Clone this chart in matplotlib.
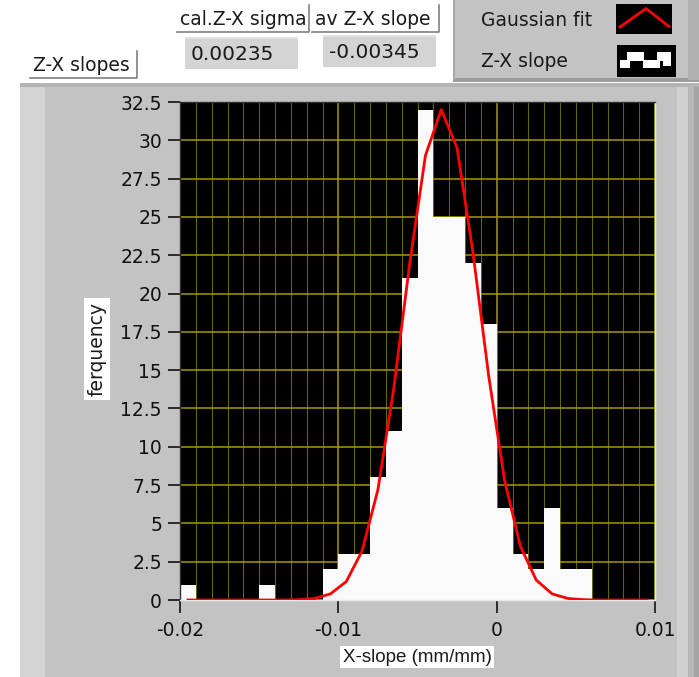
import matplotlib
matplotlib.use("Agg")
import matplotlib.pyplot as plt
from matplotlib.patches import Rectangle
from matplotlib.ticker import MultipleLocator
import numpy as np

plt.rcParams['font.family'] = ['DejaVu Sans']
plt.rcParams['axes.unicode_minus'] = False

# histogram bins (left edges, width 0.001) and counts
bin_left = [-0.020, -0.019, -0.018, -0.017, -0.016, -0.015, -0.014, -0.013, -0.012, -0.011,
            -0.010, -0.009, -0.008, -0.007, -0.006, -0.005, -0.004, -0.003, -0.002, -0.001,
            0.000, 0.001, 0.002, 0.003, 0.004, 0.005, 0.006, 0.007, 0.008, 0.009]
counts = [1, 0, 0, 0, 0, 1, 0, 0, 0, 2,
          3, 3, 8, 11, 21, 32, 25, 25, 22, 18,
          6, 3, 2, 6, 2, 2, 0, 0, 0, 0]
bin_w = 0.001

# gaussian fit drawn at the bin centres
fit_y = [0, 0, 0, 0, 0, 0, 0, 0.02, 0.1, 0.4,
         1.2, 3.2, 7.2, 13.8, 21.9, 29.0, 32.0, 29.5, 22.7, 14.6,
         7.8, 3.5, 1.3, 0.4, 0.1, 0.02, 0, 0, 0, 0]

sigma_txt = "0.00235"
avg_txt = "-0.00345"
x_ticks = [-0.02, -0.01, 0, 0.01]
x_tick_labels = ["-0.02", "-0.01", "0", "0.01"]
y_ticks = [0, 2.5, 5, 7.5, 10, 12.5, 15, 17.5, 20, 22.5, 25, 27.5, 30, 32.5]

W, H = 699, 677
fig = plt.figure(figsize=(W / 100, H / 100), dpi=100)
fig.patch.set_facecolor('white')

# background in pixel coordinates
bg = fig.add_axes([0, 0, 1, 1])
bg.set_xlim(0, W)
bg.set_ylim(H, 0)
bg.axis('off')

def rect(x0, y0, x1, y1, color, z=0):
    bg.add_patch(Rectangle((x0, y0), x1 - x0, y1 - y0, facecolor=color, edgecolor='none', zorder=z))

# graph panel
rect(20, 83, W, H, '#c3c3c3')
rect(20, 83, 45, H, '#d4d4d4')
rect(20, 83, W, 87, '#b4b4b4')
rect(677, 87, 688, H, '#d0d0d0')
rect(688, 87, 694, H, '#b8b8b8')
rect(694, 87, W, H, '#a4a4a4')

# legend panel
rect(453, 0, W, 80, '#c3c3c3')
rect(453, 78, W, 82, '#9c9c9c')
rect(453, 0, 455, 80, '#a8a8a8')
rect(688, 0, W, 80, '#b0b0b0')

# legend icons
rect(616, 4, 672, 34, 'black', 1)
bg.plot([620, 646, 669], [27, 8.5, 26.5], color='#ff0000', lw=2, zorder=2)
rect(617, 45, 676, 77, 'black', 1)
for x0, y0, x1, y1 in [(620, 60, 630, 68), (627, 52, 644, 61), (643, 60, 660, 68),
                       (657, 52, 671, 61), (663, 60, 671, 66)]:
    rect(x0, y0, x1, y1, 'white', 2)
bg.text(481, 20, "Gaussian fit", fontsize=13.5, color='#1a1a1a', va='center', ha='left')
bg.text(481, 61.5, "Z-X slope", fontsize=13.5, color='#1a1a1a', va='center', ha='left')

# label boxes
def label_box(x0, y0, x1, y1, txt):
    rect(x0, y0, x1, y1, 'white', 1)
    bg.plot([x1, x1, x0], [y0, y1, y1], color='#808080', lw=1.2, zorder=2)
    bg.text(x0 + 3, (y0 + y1) / 2 + 1, txt, fontsize=13.5, color='#1a1a1a',
            va='center', ha='left', zorder=3)

label_box(30, 51, 137, 78, "Z-X slopes")
label_box(177, 5, 309, 32, "cal.Z-X sigma")
label_box(312, 5, 439, 32, "av Z-X slope")

def value_box(x0, y0, x1, y1, txt):
    rect(x0, y0, x1, y1, '#d4d4d4', 1)
    rect(x0, y0, x1, y0 + 2, '#e2e2e2', 2)
    bg.text(x0 + 6, (y0 + y1) / 2 + 1, txt, fontsize=14.5, color='#1a1a1a',
            va='center', ha='left', zorder=3)

value_box(185, 37, 298, 69, sigma_txt)
value_box(323, 35, 436, 67, avg_txt)

# axis titles with white backing
bg.text(97, 349, "ferquency", rotation=90, fontsize=13.5, color='#1a1a1a',
        ha='center', va='center', zorder=3,
        bbox=dict(facecolor='white', edgecolor='none', pad=2.5))
bg.text(417, 657, "X-slope (mm/mm)", fontsize=13.5, color='#1a1a1a',
        family='Liberation Sans', ha='center', va='center', zorder=3,
        bbox=dict(facecolor='white', edgecolor='none', pad=2))

# plot area
ax = fig.add_axes([180 / W, (H - 600) / H, 475 / W, 498 / H])
ax.set_facecolor('black')
ax.bar(bin_left, counts, width=bin_w, align='edge', color='#fafafa', edgecolor='none', zorder=2)
centres = np.array(bin_left) + bin_w / 2
ax.plot(centres, fit_y, color='#ff0000', lw=2, zorder=3)

ax.set_xlim(-0.02, 0.01)
ax.set_ylim(0, 32.5)
ax.set_xticks(x_ticks)
ax.set_xticklabels(x_tick_labels)
ax.set_yticks(y_ticks)
ax.set_yticklabels(["%g" % v for v in y_ticks])
ax.xaxis.set_minor_locator(MultipleLocator(0.001))
ax.set_axisbelow(True)
ax.grid(which='minor', axis='x', color='#6a6400', lw=0.8)
ax.grid(which='major', axis='x', color='#a39900', lw=1.1)
ax.grid(which='major', axis='y', color='#a39900', lw=1.1)
ax.tick_params(axis='x', which='minor', length=0)
ax.tick_params(axis='x', which='major', direction='out', length=9, width=1.3,
               color='#202020', pad=6, labelsize=13.5, labelcolor='#111111')
ax.tick_params(axis='y', which='major', direction='out', length=9, width=1.3,
               color='#202020', pad=4, labelsize=13.5, labelcolor='#111111')
for s in ['left', 'top']:
    ax.spines[s].set_color('#303030')
for s in ['right', 'bottom']:
    ax.spines[s].set_color('#e8e8e8')
for s in ax.spines.values():
    s.set_linewidth(1)

fig.savefig("out.png", dpi=100, facecolor=fig.get_facecolor())
